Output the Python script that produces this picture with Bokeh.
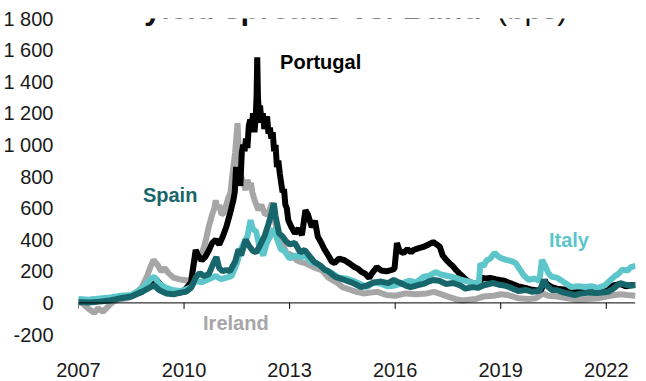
from bokeh.plotting import figure
from bokeh.models import LinearAxis, FixedTicker, Range1d, Label, Span
from bokeh.embed import file_html
from bokeh.resources import INLINE

# ---------------- data ----------------
x_ticks = [2007, 2010, 2013, 2016, 2019, 2022]
y_ticks = [-200, 0, 200, 400, 600, 800, 1000, 1200, 1400, 1600, 1800]
y_tick_labels = ["-200", "0", "200", "400", "600", "800", "1 000", "1 200", "1 400", "1 600", "1 800"]

title_bold = "yield spreads vs. Bund"
title_unit = "(bps)"

portugal_x = [2007.0, 2007.3, 2007.6, 2007.9, 2008.2, 2008.5, 2008.8, 2009.05, 2009.2, 2009.35, 2009.5, 2009.7, 2009.9,
              2010.05, 2010.2, 2010.33, 2010.4, 2010.5, 2010.6, 2010.7, 2010.8, 2010.9, 2011.0, 2011.1, 2011.2, 2011.3,
              2011.4, 2011.44, 2011.48, 2011.52, 2011.56, 2011.6, 2011.64, 2011.68, 2011.72, 2011.76, 2011.8, 2011.84,
              2011.88, 2011.92, 2011.96, 2012.0, 2012.03, 2012.06, 2012.08, 2012.1, 2012.13, 2012.16, 2012.2, 2012.24,
              2012.28, 2012.32, 2012.36, 2012.4, 2012.44, 2012.48, 2012.52, 2012.56, 2012.6, 2012.64, 2012.68, 2012.72,
              2012.76, 2012.8, 2012.84, 2012.88, 2012.92, 2012.96,
              2013.05, 2013.15, 2013.25, 2013.35, 2013.45, 2013.52, 2013.63, 2013.72, 2013.8, 2013.9, 2014.0, 2014.1,
              2014.2, 2014.28, 2014.4, 2014.56, 2014.7, 2014.84, 2014.95, 2015.05, 2015.15, 2015.26, 2015.35, 2015.48,
              2015.6, 2015.75, 2015.88, 2015.98, 2016.05, 2016.12, 2016.24, 2016.35, 2016.45, 2016.52, 2016.65, 2016.8,
              2016.95, 2017.08, 2017.18, 2017.27, 2017.35, 2017.45, 2017.55, 2017.65, 2017.73, 2017.83, 2017.93, 2018.05,
              2018.2, 2018.3, 2018.4, 2018.45, 2018.55, 2018.7, 2018.85, 2018.97, 2019.1, 2019.2, 2019.33, 2019.5, 2019.7,
              2019.85, 2020.0, 2020.15, 2020.25, 2020.3, 2020.45, 2020.6, 2020.8, 2021.0, 2021.2, 2021.4, 2021.6, 2021.8,
              2022.0, 2022.2, 2022.4, 2022.55, 2022.7, 2022.83]
portugal_y = [15, 18, 22, 25, 40, 45, 70, 130, 150, 110, 75, 60, 65,
              90, 130, 335, 300, 270, 290, 330, 380, 400, 370, 420, 480, 560,
              650, 700, 860, 780, 820, 740, 950, 1000, 960, 1040, 980, 1120,
              1160, 1100, 1200, 1080, 1150, 1300, 1554, 1300, 1200, 1250, 1140, 1200,
              1100, 1160, 1180, 1070, 1110, 1040, 1080, 960, 1000, 860, 900, 820,
              760, 700, 720, 620, 600, 525,
              480, 440, 470, 430, 587, 560, 480, 520, 420, 380, 335, 300,
              260, 253, 280, 270, 250, 227, 215, 195, 185, 158, 190, 227,
              205, 200, 208, 215, 379, 330, 316, 340, 320, 335, 345, 354,
              370, 385, 370, 354, 300, 272, 250, 230, 208, 185, 165, 140,
              126, 120, 115, 160, 155, 158, 150, 145, 140, 130, 120, 105, 95,
              85, 80, 82, 145, 120, 100, 90, 85, 78, 80, 75, 78, 82,
              95, 110, 120, 105, 112, 113]

spain_x = [2007.0, 2007.3, 2007.6, 2007.9, 2008.2, 2008.5, 2008.8, 2009.05, 2009.15, 2009.3, 2009.5, 2009.7, 2009.9,
           2010.05, 2010.2, 2010.33, 2010.45, 2010.55, 2010.7, 2010.85, 2010.92, 2011.0, 2011.1, 2011.2, 2011.3, 2011.45,
           2011.55, 2011.62, 2011.75, 2011.85, 2011.95, 2012.05, 2012.15, 2012.3, 2012.4, 2012.5, 2012.55, 2012.6,
           2012.7, 2012.8, 2012.9, 2013.0, 2013.15, 2013.3, 2013.43, 2013.55, 2013.7, 2013.85, 2014.0, 2014.1, 2014.3,
           2014.56, 2014.75, 2014.9, 2015.03, 2015.2, 2015.4, 2015.6, 2015.8, 2015.96, 2016.1, 2016.3, 2016.44, 2016.6,
           2016.8, 2016.95, 2017.08, 2017.25, 2017.45, 2017.65, 2017.85, 2018.0, 2018.2, 2018.35, 2018.5, 2018.77,
           2018.95, 2019.1, 2019.3, 2019.5, 2019.7, 2019.9, 2020.1, 2020.23, 2020.3, 2020.45, 2020.6, 2020.8, 2021.1,
           2021.3, 2021.5, 2021.75, 2022.05, 2022.2, 2022.4, 2022.55, 2022.7, 2022.83]
spain_y = [5, 2, 8, 15, 30, 40, 70, 100, 110, 80, 60, 55, 65,
           70, 95, 160, 190, 170, 180, 260, 290, 220, 200, 208, 200, 260,
           340, 300, 400, 360, 330, 320, 360, 430, 500, 580, 632, 550,
           440, 420, 390, 370, 379, 320, 335, 300, 260, 240, 210, 200, 165,
           145, 130, 115, 100, 110, 130, 135, 125, 145, 130, 110, 100, 110,
           120, 135, 145, 140, 120, 126, 110, 90, 100, 95, 110, 126,
           115, 110, 95, 75, 82, 70, 75, 145, 110, 82, 80, 65, 50,
           60, 65, 62, 70, 90, 126, 115, 110, 113]

italy_x = [2007.0, 2007.3, 2007.6, 2007.9, 2008.2, 2008.5, 2008.8, 2009.05, 2009.15, 2009.3, 2009.5, 2009.7, 2009.9,
           2010.05, 2010.2, 2010.33, 2010.5, 2010.7, 2010.9, 2011.05, 2011.2, 2011.35, 2011.5, 2011.6, 2011.7, 2011.8,
           2011.89, 2011.95, 2012.05, 2012.15, 2012.25, 2012.35, 2012.45, 2012.55, 2012.65, 2012.75, 2012.85, 2013.0,
           2013.15, 2013.3, 2013.45, 2013.6, 2013.75, 2013.9, 2014.0, 2014.2, 2014.4, 2014.6, 2014.8, 2015.0, 2015.2,
           2015.4, 2015.6, 2015.8, 2016.0, 2016.2, 2016.4, 2016.6, 2016.8, 2016.95, 2017.15, 2017.3, 2017.5, 2017.7,
           2017.9, 2018.1, 2018.3, 2018.38, 2018.42, 2018.5, 2018.6, 2018.7, 2018.83, 2018.95, 2019.05, 2019.15, 2019.3,
           2019.42, 2019.55, 2019.65, 2019.8, 2019.95, 2020.1, 2020.17, 2020.25, 2020.35, 2020.45, 2020.6, 2020.8,
           2021.0, 2021.2, 2021.4, 2021.6, 2021.77, 2021.95, 2022.1, 2022.22, 2022.35, 2022.45, 2022.6, 2022.7, 2022.83]
italy_y = [25, 20, 28, 35, 45, 50, 90, 150, 165, 120, 95, 80, 75,
           85, 100, 140, 130, 150, 170, 150, 160, 170, 250, 330, 380, 420,
           524, 470, 450, 350, 300, 380, 420, 470, 400, 340, 330, 280,
           300, 290, 300, 260, 250, 230, 210, 190, 160, 155, 140, 120, 100,
           130, 120, 105, 110, 125, 140, 130, 165, 170, 195, 180, 170, 160,
           145, 135, 120, 130, 250, 230, 270, 280, 316, 290, 280, 272, 265,
           253, 210, 175, 145, 155, 140, 272, 240, 190, 165, 160, 130,
           100, 105, 100, 105, 95, 110, 140, 165, 185, 210, 205, 227, 235]

ireland_x = [2007.0, 2007.15, 2007.3, 2007.45, 2007.55, 2007.7, 2007.85, 2008.0, 2008.2, 2008.4, 2008.6, 2008.8,
             2008.95, 2009.05, 2009.13, 2009.25, 2009.35, 2009.45, 2009.55, 2009.7, 2009.85, 2010.0, 2010.1, 2010.2,
             2010.28, 2010.34, 2010.45, 2010.6, 2010.7, 2010.8, 2010.86, 2010.9, 2010.95, 2011.0, 2011.06, 2011.13,
             2011.2, 2011.25, 2011.32, 2011.38, 2011.45, 2011.52, 2011.56, 2011.6, 2011.68, 2011.75, 2011.8, 2011.85,
             2011.9, 2011.94, 2012.02, 2012.11, 2012.2, 2012.3, 2012.4, 2012.5, 2012.58, 2012.67, 2012.78, 2012.9,
             2013.07, 2013.2, 2013.3, 2013.43, 2013.6, 2013.75, 2013.91,
             2014.1, 2014.36, 2014.5, 2014.7, 2014.9, 2015.1, 2015.3, 2015.5, 2015.75, 2016.0, 2016.3, 2016.6, 2016.9,
             2017.1, 2017.3, 2017.5, 2017.7, 2017.9, 2018.1, 2018.3, 2018.5, 2018.8, 2019.0, 2019.2, 2019.5, 2019.8,
             2020.0, 2020.2, 2020.35, 2020.6, 2020.9, 2021.2, 2021.5, 2021.8, 2022.1, 2022.4, 2022.6, 2022.83]
ireland_y = [10, -10, -40, -63, -35, -55, -20, 10, 25, 30, 50, 100,
             170, 230, 272, 240, 200, 220, 190, 160, 150, 145, 140, 150,
             250, 316, 270, 380, 480, 560, 600, 650, 590, 620, 560, 568,
             620, 660, 700, 821, 950, 1137, 950, 821, 760, 714, 780, 730,
             760, 700, 640, 588, 620, 560, 568, 632, 520, 417, 380, 320,
             300, 270, 260, 253, 235, 220, 208,
             160, 126, 100, 85, 70, 60, 65, 70, 50, 45, 60, 55, 60,
             70, 55, 40, 25, 15, 20, 25, 40, 45, 55, 50, 30, 25,
             30, 60, 45, 40, 30, 20, 25, 30, 45, 55, 50, 45]

# ---------------- styling ----------------
FONT = "Liberation Sans"
C_PT = "#000000"
C_ES = "#17666b"
C_IT = "#5cc6ca"
C_IE = "#a6a6a6"
LW = 6

p = figure(width=638, height=388, output_backend="svg", toolbar_location=None,
           x_range=Range1d(2007, 2022.83), y_range=Range1d(-200, 1800),
           min_border_left=73, min_border_right=3, min_border_top=26, min_border_bottom=46,
           x_axis_location=None, y_axis_location=None)
p.styles = {"margin-top": "-8px"}
p.outline_line_color = None
p.xgrid.visible = False
p.ygrid.visible = False
p.background_fill_color = "white"
p.border_fill_color = "white"

# zero line and its downward tick marks
p.add_layout(Span(location=0, dimension="width", line_color="#000000", line_width=1))
p.segment(x0=x_ticks, y0=[0] * len(x_ticks), x1=x_ticks, y1=[-38] * len(x_ticks),
          line_color="#000000", line_width=1)

# lines
p.line(ireland_x, ireland_y, line_color=C_IE, line_width=LW)
p.line(portugal_x, portugal_y, line_color=C_PT, line_width=LW)
p.line(italy_x, italy_y, line_color=C_IT, line_width=LW)
p.line(spain_x, spain_y, line_color=C_ES, line_width=LW)

# y axis (labels only)
yax = LinearAxis(ticker=FixedTicker(ticks=y_ticks),
                 major_label_overrides={t: l for t, l in zip(y_ticks, y_tick_labels)})
yax.axis_line_color = None
yax.major_tick_line_color = None
yax.minor_tick_line_color = None
yax.major_label_standoff = 19
yax.major_label_text_font = FONT
yax.major_label_text_font_size = "20px"
yax.major_label_text_color = "#1a1a1a"
p.add_layout(yax, "left")

# x axis labels at the bottom
xax = LinearAxis(ticker=FixedTicker(ticks=x_ticks))
xax.axis_line_color = None
xax.major_tick_line_color = None
xax.minor_tick_line_color = None
xax.major_label_standoff = 22
xax.major_label_text_font = FONT
xax.major_label_text_font_size = "20px"
xax.major_label_text_color = "#1a1a1a"
p.add_layout(xax, "below")

# series labels
def lab(x, y, text, color):
    p.add_layout(Label(x=x, y=y, text=text, text_color=color, text_font=FONT,
                       text_font_size="20px", text_font_style="bold",
                       text_baseline="middle", text_align="left"))

lab(2012.73, 1522, "Portugal", C_PT)
lab(2008.83, 685, "Spain", C_ES)
lab(2010.54, -126, "Ireland", C_IE)
lab(2020.37, 398, "Italy", C_IT)

# title (partly cut at the top, as in the reference)
p.add_layout(Label(x=2008.86, y=1864, text=title_bold, text_color="#111111", text_font=FONT,
                   text_font_size="31px", text_font_style="bold", text_baseline="alphabetic"))
p.add_layout(Label(x=2018.89, y=1864, text=title_unit, text_color="#111111", text_font=FONT,
                   text_font_size="31px", text_font_style="normal", text_baseline="alphabetic"))

open("out.html", "w").write(file_html(p, INLINE))
